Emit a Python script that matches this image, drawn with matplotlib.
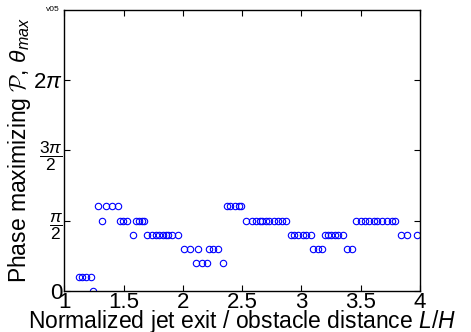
import numpy as np
import matplotlib
matplotlib.use('Agg')
import matplotlib.pyplot as plt

# distance L/H and phase index (multiples of pi/10)
dist = [1.124, 1.152, 1.183, 1.223, 1.242,
        1.281, 1.320, 1.349, 1.400, 1.450,
        1.470, 1.497, 1.526, 1.579,
        1.605, 1.630, 1.652, 1.675,
        1.700, 1.737, 1.771, 1.800, 1.830, 1.860, 1.873, 1.905, 1.958,
        2.006, 2.060, 2.127, 2.108, 2.158, 2.206,
        2.223, 2.256, 2.296, 2.341,
        2.370, 2.400, 2.440, 2.470, 2.490,
        2.530, 2.580, 2.620, 2.650, 2.670, 2.700, 2.730, 2.770, 2.800, 2.840, 2.870,
        2.910, 2.940, 2.970, 3.010, 3.040, 3.080,
        3.100, 3.137, 3.176,
        3.198, 3.220, 3.250, 3.280, 3.310, 3.352,
        3.386, 3.423,
        3.460, 3.500, 3.540, 3.570, 3.610, 3.640, 3.680, 3.720, 3.760, 3.790,
        3.839, 3.890, 3.971]
phase_k = [1, 1, 1, 1, 0,
           6, 5, 6, 6, 6,
           5, 5, 5, 4,
           5, 5, 5, 5,
           4, 4, 4, 4, 4, 4, 4, 4, 4,
           3, 3, 3, 2, 2, 2,
           3, 3, 3, 2,
           6, 6, 6, 6, 6,
           5, 5, 5, 5, 5, 5, 5, 5, 5, 5, 5,
           4, 4, 4, 4, 4, 4,
           3, 3, 3,
           4, 4, 4, 4, 4, 4,
           3, 3,
           5, 5, 5, 5, 5, 5, 5, 5, 5, 5,
           4, 4, 4]

xticks = [1, 1.5, 2, 2.5, 3, 3.5, 4]
xticklabels = ['1', '1.5', '2', '2.5', '3', '3.5', '4']
yticks = [0, np.pi/2, np.pi, 3*np.pi/2]
yticklabels = ['0', r'$\dfrac{\pi}{2}$', r'$\dfrac{3\pi}{2}$', r'$2\pi$']

plt.rcParams['font.family'] = ['Liberation Sans', 'DejaVu Sans']
plt.rcParams['mathtext.fontset'] = 'custom'
plt.rcParams['mathtext.rm'] = 'Liberation Sans'
plt.rcParams['mathtext.it'] = 'Liberation Sans:italic'
plt.rcParams['mathtext.cal'] = 'cmsy10'

fig = plt.figure(figsize=(4.71, 3.32), dpi=100)
ax = fig.add_axes([0.1365, 0.1244, 0.7552, 0.8456])

theta = np.array(phase_k) * np.pi / 10
ax.plot(dist, theta, 'o', linestyle='none', markerfacecolor='none',
        markeredgecolor='#0000ff', markersize=4.6, markeredgewidth=0.8)

ax.set_xlim(1, 4)
ax.set_ylim(0, 2*np.pi)
ax.set_xticks(xticks)
ax.set_xticklabels(xticklabels)
ax.set_yticks(yticks)
ax.set_yticklabels(yticklabels)
ax.tick_params(direction='in', top=True, right=True, labelsize=16,
               length=4, width=0.8, pad=1)
for lab in ax.get_yticklabels()[1:3]:
    lab.set_fontsize(12.5)
for s in ax.spines.values():
    s.set_linewidth(1.0)

ax.set_xlabel(r'Normalized jet exit / obstacle distance $L/H$', fontsize=16.5, labelpad=-4)
ax.set_ylabel(r'Phase maximizing $\mathcal{P}$, $\theta_{max}$', fontsize=16.5, labelpad=0)
ax.text(-0.012, 1.0, 'v05', transform=ax.transAxes, fontsize=6,
        ha='right', va='center')

plt.savefig('out.png', dpi=100)
